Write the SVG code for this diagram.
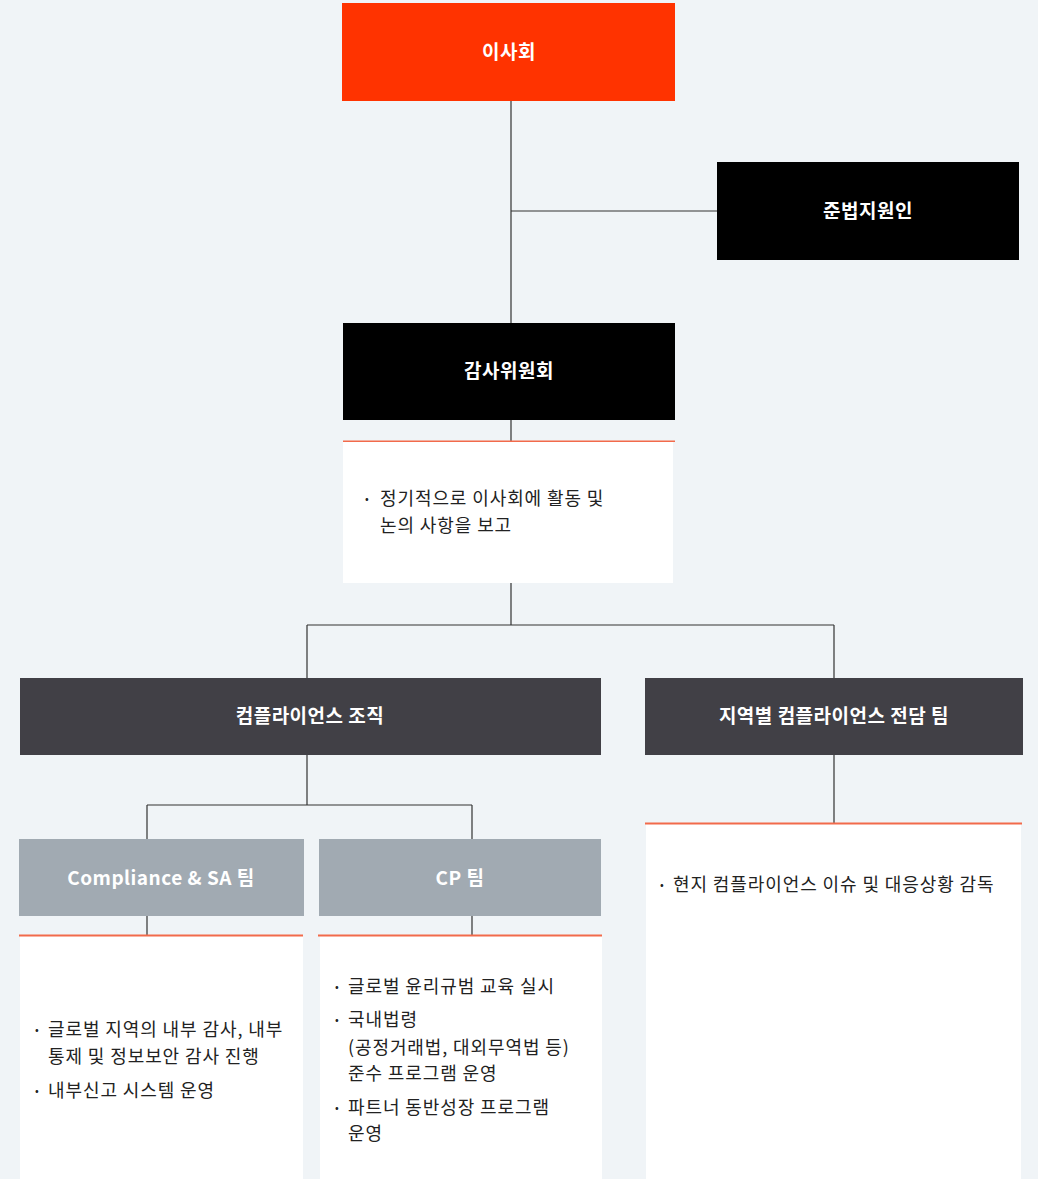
<svg xmlns="http://www.w3.org/2000/svg" width="1038" height="1179" viewBox="0 0 1038 1179">
<style>
.t{font-family:"Noto Sans CJK KR","Noto Sans",sans-serif;font-weight:700;font-size:19px;fill:#fff;text-anchor:middle;letter-spacing:0.5px}
.b{font-family:"Noto Sans CJK KR","Noto Sans",sans-serif;font-weight:400;font-size:18px;fill:#222;letter-spacing:0.9px}
.d{font-family:"Noto Sans CJK KR","Noto Sans",sans-serif;font-size:11px;fill:#222}
.c{stroke:#333;stroke-width:1.2;fill:none}
.ol{fill:#f26a4b}
.wb{fill:#fff}
</style>
<rect width="1038" height="1179" fill="#f0f4f7"/>
<g id="connectors">
<path class="c" d="M511 101V323M511 211H717M511 420V441M511 583V625M307 625H834M307 625V678M834 625V678M307 755V805M147 805H472M147 805V839M472 805V839M147 916V935M472 916V935M834 755V823"/>
</g>
<g id="n-board"><rect x="342" y="3" width="333" height="98" fill="#ff3300"/><text class="t" x="509" y="59">이사회</text></g>
<g id="n-officer"><rect x="717" y="162" width="302" height="98" fill="#000"/><text class="t" x="868" y="218">준법지원인</text></g>
<g id="n-audit"><rect x="343" y="323" width="332" height="97" fill="#000"/><text class="t" x="509" y="378">감사위원회</text></g>
<g id="n-audit-desc"><rect class="wb" x="343" y="442" width="330" height="141"/><rect class="ol" x="343" y="440.5" width="332" height="1.5"/>
<text class="d" x="365" y="503">•</text><text class="b" x="380" y="505">정기적으로 이사회에 활동 및</text><text class="b" x="380" y="532">논의 사항을 보고</text></g>
<g id="n-comp"><rect x="20" y="678" width="581" height="77" fill="#414046"/><text class="t" x="310" y="723">컴플라이언스 조직</text></g>
<g id="n-local"><rect x="645" y="678" width="378" height="77" fill="#414046"/><text class="t" x="834" y="723">지역별 컴플라이언스 전담 팀</text></g>
<g id="n-sa"><rect x="19" y="839" width="285" height="77" fill="#a1aab2"/><text class="t" x="161" y="885">Compliance &amp; SA 팀</text></g>
<g id="n-cp"><rect x="319" y="839" width="282" height="77" fill="#a1aab2"/><text class="t" x="460" y="885">CP 팀</text></g>
<g id="n-sa-desc"><rect class="wb" x="20" y="936" width="283" height="243"/><rect class="ol" x="19" y="934.5" width="284" height="2"/>
<text class="d" x="35" y="1034">•</text><text class="b" x="48" y="1036">글로벌 지역의 내부 감사, 내부</text><text class="b" x="48" y="1063">통제 및 정보보안 감사 진행</text>
<text class="d" x="35" y="1095">•</text><text class="b" x="48" y="1097">내부신고 시스템 운영</text></g>
<g id="n-cp-desc"><rect class="wb" x="320" y="936" width="282" height="243"/><rect class="ol" x="318" y="934.5" width="284" height="2"/>
<text class="d" x="335" y="991">•</text><text class="b" x="348" y="993">글로벌 윤리규범 교육 실시</text>
<text class="d" x="335" y="1024">•</text><text class="b" x="348" y="1026">국내법령</text><text class="b" x="348" y="1054">(공정거래법, 대외무역법 등)</text><text class="b" x="348" y="1080">준수 프로그램 운영</text>
<text class="d" x="335" y="1112">•</text><text class="b" x="348" y="1114">파트너 동반성장 프로그램</text><text class="b" x="348" y="1140">운영</text></g>
<g id="n-local-desc"><rect class="wb" x="646" y="824" width="375" height="355"/><rect class="ol" x="645" y="822.5" width="377" height="2"/>
<text class="d" x="660" y="889">•</text><text class="b" x="673" y="891">현지 컴플라이언스 이슈 및 대응상황 감독</text></g>
</svg>
